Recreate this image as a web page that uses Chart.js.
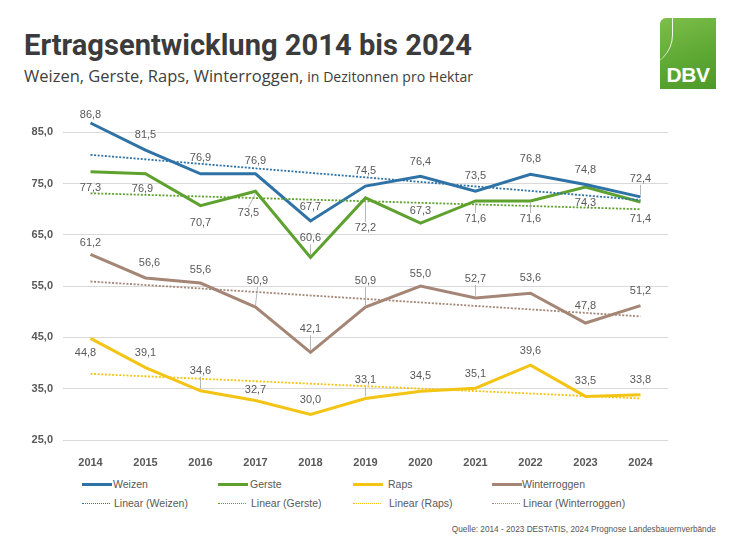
<!DOCTYPE html>
<html lang="de">
<head>
<meta charset="utf-8">
<title>Ertragsentwicklung 2014 bis 2024</title>
<script src="https://cdn.jsdelivr.net/npm/chart.js@4.4.1/dist/chart.umd.min.js"></script>
<style>
  html, body { margin: 0; padding: 0; background: #fff; }
  #page { position: relative; width: 740px; height: 540px; overflow: hidden; font-family: "Liberation Sans", Arial, sans-serif; }
  #title { position: absolute; left: 24px; top: 30px; font-family: Roboto, sans-serif; font-weight: 700; font-size: 30px; line-height: 30px; color: #3b3b3b; white-space: nowrap; transform-origin: 0 0; }
  #subtitle { position: absolute; left: 24px; top: 66px; font-family: "Open Sans", sans-serif; color: #404040; white-space: nowrap; transform-origin: 0 0; line-height: 20px; }
  #subtitle .big { font-size: 17px; }
  #subtitle .small { font-size: 14.5px; }
  #logo { position: absolute; left: 660px; top: 18px; width: 56px; height: 71px; background: linear-gradient(160deg, #7dbf4a 0%, #5ea834 55%, #4e9a28 100%); border-top-left-radius: 6px; overflow: hidden; }
  #logo .dbv { position: absolute; left: 0; right: 0; bottom: 2px; text-align: center; color: #fff; font-family: "Liberation Sans", Arial, sans-serif; font-weight: 700; font-size: 21px; letter-spacing: -0.5px; }
  #logo .swoosh { position: absolute; left: -18px; top: -4px; width: 30px; height: 52px; border-right: 1.5px solid rgba(255,255,255,0.9); border-radius: 0 0 40px 0; }
  #chart { position: absolute; left: 0; top: 90px; }
  .leg-line { position: absolute; height: 0; }
  .leg-text { position: absolute; font-size: 10.5px; color: #595959; line-height: 12px; white-space: nowrap; }
  #source { position: absolute; right: 24px; top: 524px; font-size: 9px; color: #555; white-space: nowrap; transform-origin: 100% 0; }
</style>
</head>
<body>
<div id="page">
  <div id="title">Ertragsentwicklung 2014 bis 2024</div>
  <div id="subtitle"><span class="big">Weizen, Gerste, Raps, Winterroggen,</span> <span class="small">in Dezitonnen pro Hektar</span></div>
  <div id="logo"><div class="swoosh"></div><div class="dbv">DBV</div></div>
  <canvas id="chart" width="740" height="380"></canvas>
  <div id="legend"></div>
  <div id="source">Quelle: 2014 - 2023 DESTATIS, 2024 Prognose Landesbauernverbände</div>
</div>
<script>
const years = ["2014", "2015", "2016", "2017", "2018", "2019", "2020", "2021", "2022", "2023", "2024"];
const weizen = [86.8, 81.5, 76.9, 76.9, 67.7, 74.5, 76.4, 73.5, 76.8, 74.8, 72.4];
const gerste = [77.3, 76.9, 70.7, 73.5, 60.6, 72.2, 67.3, 71.6, 71.6, 74.3, 71.4];
const raps = [44.8, 39.1, 34.6, 32.7, 30.0, 33.1, 34.5, 35.1, 39.6, 33.5, 33.8];
const winterroggen = [61.2, 56.6, 55.6, 50.9, 42.1, 50.9, 55.0, 52.7, 53.6, 47.8, 51.2];
// Trendlinien (Linear), Anfangs- und Endwert
const seriesNames = ["Weizen", "Gerste", "Raps", "Winterroggen"];
const trendStart = [80.6, 73.1, 37.9, 55.9];
const trendEnd = [71.8, 70.0, 33.1, 49.1];
const yTicks = [25, 35, 45, 55, 65, 75, 85];

const colors = ["#2f73a6", "#5ea12e", "#f4c414", "#a58676"];
const seriesData = [weizen, gerste, raps, winterroggen];

// Abstand der Beschriftung zum Punkt (px)
const labelDy = [
  [-8, -15, -16, -13, -14, -15, -14, -15, -15, -15, -18],
  [16, 15, 17, 22, -19, 30, -12, 18, 18, 16, 17],
  [15, -15, -20, -11, -14, -18, -15, -14, -14, -15, -15],
  [-11, -15, -13, -26, -23, -26, -12, -19, -15, -17, -15]
];
const labelDx = [
  [0, 0, 0, 0, 0, 0, 0, 0, 0, 0, 0],
  [0, -3, 0, -7, 0, 0, 0, 0, 0, 0, 0],
  [-5, 0, 0, 0, 0, 0, 0, 0, 0, 0, 0],
  [0, 4, 0, 2, 0, 0, 0, 0, 0, 0, 0]
];

function trendData(i) {
  return years.map((y, j) => j === 0 ? trendStart[i] : (j === years.length - 1 ? trendEnd[i] : null));
}

const datasets = [];
seriesNames.forEach((name, i) => {
  datasets.push({
    label: name,
    data: seriesData[i],
    borderColor: colors[i],
    backgroundColor: colors[i],
    borderWidth: 3,
    pointRadius: 0,
    tension: 0,
    order: 1,
    isMain: true,
    seriesIndex: i
  });
});
seriesNames.forEach((name, i) => {
  datasets.push({
    label: "Linear (" + name + ")",
    data: trendData(i),
    borderColor: colors[i],
    borderWidth: 1.8,
    borderDash: [2, 1.6],
    pointRadius: 0,
    spanGaps: true,
    order: 0
  });
});

const fmt = v => v.toFixed(1).replace(".", ",");

const valueLabels = {
  id: "valueLabels",
  afterDatasetsDraw(chart) {
    const ctx = chart.ctx;
    ctx.save();
    ctx.font = "11px 'Liberation Sans', Arial, sans-serif";
    ctx.fillStyle = "#595959";
    ctx.textAlign = "center";
    ctx.textBaseline = "middle";
    chart.data.datasets.forEach((ds, di) => {
      if (!ds.isMain) return;
      const s = ds.seriesIndex;
      const meta = chart.getDatasetMeta(di);
      meta.data.forEach((pt, j) => {
        const dy = labelDy[s][j];
        const dx = labelDx[s][j];
        const lx = pt.x + dx;
        const ly = pt.y + dy;
        if (Math.abs(dy) >= 18) {
          const dir = dy < 0 ? -1 : 1;
          ctx.strokeStyle = "#a6a6a6";
          ctx.lineWidth = 0.8;
          ctx.beginPath();
          ctx.moveTo(pt.x, pt.y + dir * 2);
          ctx.lineTo(lx, ly - dir * 6);
          ctx.stroke();
        }
        ctx.fillText(fmt(ds.data[j]), lx, ly);
      });
    });
    ctx.restore();
  }
};

const chart = new Chart(document.getElementById("chart"), {
  type: "line",
  data: { labels: years, datasets: datasets },
  options: {
    responsive: false,
    animation: false,
    devicePixelRatio: 1,
    layout: { padding: { top: 6, right: 72, left: 0, bottom: 0 } },
    plugins: { legend: { display: false }, tooltip: { enabled: false } },
    scales: {
      x: {
        offset: true,
        grid: { display: false },
        border: { display: false },
        ticks: { color: "#595959", font: { family: "'Liberation Sans', Arial, sans-serif", size: 11, weight: "bold" }, padding: 8, maxRotation: 0 },
        afterFit: s => { s.height = 30; }
      },
      y: {
        min: 25,
        max: 90,
        afterBuildTicks: s => { s.ticks = yTicks.map(v => ({ value: v })); },
        grid: { color: "#d9d9d9", lineWidth: 1, drawTicks: false },
        border: { display: false },
        ticks: { color: "#595959", font: { family: "'Liberation Sans', Arial, sans-serif", size: 11, weight: "bold" }, padding: 10, callback: v => fmt(v) },
        afterFit: s => { s.width = 63; }
      }
    }
  },
  plugins: [valueLabels]
});

// Legende
const legend = document.getElementById("legend");
const legLineX = [82, 218, 353, 492];
const legTextX = [113, 250, 388, 522];
seriesNames.forEach((name, i) => {
  legend.innerHTML += `
    <div class="leg-line" style="left:${legLineX[i]}px;top:483px;width:30px;border-top:3px solid ${colors[i]}"></div>
    <div class="leg-text" style="left:${legTextX[i]}px;top:478px">${name}</div>
    <div class="leg-line" style="left:${legLineX[i]}px;top:503px;width:28px;border-top:1.5px dotted ${colors[i]}"></div>
    <div class="leg-text" style="left:${legTextX[i] + 1}px;top:497px">Linear (${name})</div>`;
});

// Texte auf Breite bringen
function fitWidth(id, target) {
  const el = document.getElementById(id);
  const w = el.getBoundingClientRect().width;
  el.style.transform = `scaleX(${target / w})`;
}
fitWidth("title", 448);
fitWidth("subtitle", 449);
fitWidth("source", 264);
</script>
</body>
</html>
